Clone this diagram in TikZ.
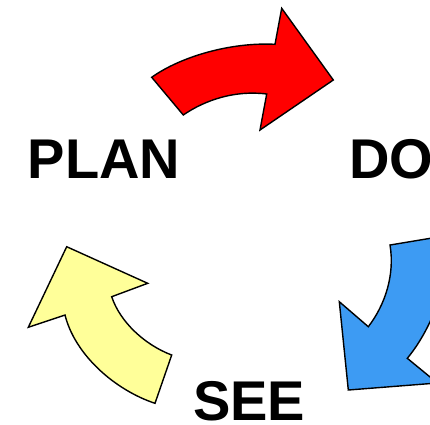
\documentclass[tikz,border=0pt]{standalone}
\usepackage{fontspec}
\setmainfont{Liberation Sans}
\begin{document}
\begin{tikzpicture}[x=1pt,y=-1pt,
  arr/.style={draw=black,line width=1.4pt,line join=miter},
  lbl/.style={font=\fontsize{56}{60}\selectfont\bfseries,anchor=base west,inner sep=0pt}]
\useasboundingbox (0,0) rectangle (430,424);
\clip (0,0) rectangle (430,424);
% red arrow (PLAN -> DO)
\path[arr,fill={rgb,255:red,255;green,0;blue,0}]
  (151.7,77.3) .. controls (180,57) and (230,42) .. (275,44.3)
  -- (281.7,8.3) -- (333.3,80) -- (260,130) -- (266.7,94)
  .. controls (235,90) and (205,100) .. (183.3,115) -- cycle;
% blue arrow (DO -> SEE)
\path[arr,fill={rgb,255:red,61;green,155;blue,243}]
  (450,235) -- (390,245)
  .. controls (395,275) and (385,305) .. (368.3,326.7)
  -- (339.3,301.7) -- (348.3,390) -- (437.4,383) -- (407.3,358.3)
  .. controls (420,343) and (433,320) .. (440,295) -- (450,295) -- cycle;
% yellow arrow (SEE -> PLAN)
\path[arr,fill={rgb,255:red,255;green,255;blue,153}]
  (66.7,246.7) -- (147.7,283.3) -- (111.7,296.7)
  .. controls (120,322) and (145,345) .. (171.7,355)
  -- (155,403.3)
  .. controls (115,390) and (75,355) .. (65,315)
  -- (28.3,327.3) -- cycle;
\node[lbl] (plan) at (27.5,178.3) {PLAN};
\node[lbl] (do) at (349,178.3) {DO};
\node[lbl] (see) at (193,420) {SEE};
\end{tikzpicture}
\end{document}
